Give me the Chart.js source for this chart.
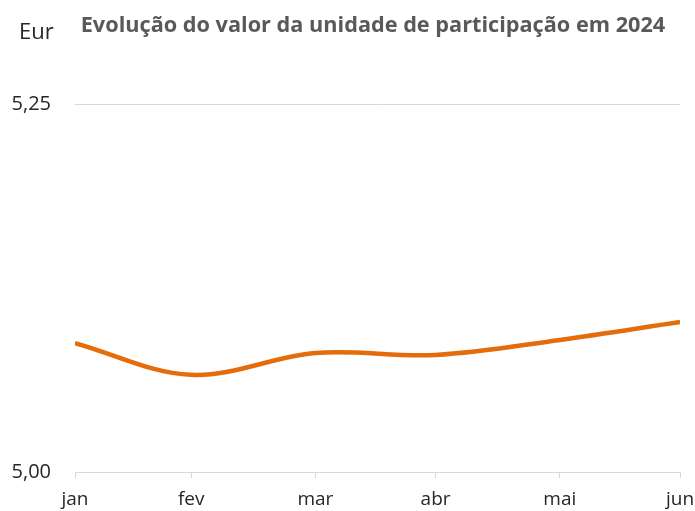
<!DOCTYPE html>
<html>
<head>
<meta charset="utf-8">
<script src="https://cdn.jsdelivr.net/npm/chart.js@4"></script>
<style>
  html, body { margin:0; padding:0; background:#fff; }
  #wrap { width:695px; height:511px; position:relative; }
</style>
</head>
<body>
<div id="wrap"><canvas id="upChart"></canvas></div>
<script>
// month labels, data at month end (day of year 2024), unit value in Eur
const months = ['jan','fev','mar','abr','mai','jun'];
const dayOfYear = [31, 60, 91, 121, 152, 182];
const unitValue = [5.0876, 5.0660, 5.0808, 5.0795, 5.0897, 5.1019];
const yTicks = [5.00, 5.25];

const headerText = {
  id:'headerText',
  afterDraw(chart){
    const ctx = chart.ctx;
    ctx.save();
    ctx.textBaseline = 'middle';
    ctx.fillStyle = '#262626';
    ctx.font = '22px "Open Sans"';
    ctx.textAlign = 'left';
    ctx.fillText('Eur', 19, 33);
    ctx.fillStyle = '#595959';
    ctx.font = 'bold 21.7px "Open Sans"';
    ctx.textAlign = 'center';
    ctx.fillText('Evolução do valor da unidade de participação em 2024', 373, 26);
    ctx.restore();
  }
};

new Chart(document.getElementById('upChart'), {
  type:'line',
  data:{
    datasets:[{
      data: dayOfYear.map((d,i)=>({x:d, y:unitValue[i]})),
      borderColor:'#E46C0A',
      borderWidth:4.5,
      pointRadius:0,
      tension:0.35,
      fill:false
    }]
  },
  options:{
    responsive:true,
    maintainAspectRatio:false,
    animation:false,
    layout:{padding:{left:8, right:15, top:104, bottom:0}},
    plugins:{legend:{display:false}, tooltip:{enabled:false}},
    scales:{
      x:{
        type:'linear',
        min:dayOfYear[0], max:dayOfYear[dayOfYear.length-1],
        afterBuildTicks(scale){ scale.ticks = dayOfYear.map(v=>({value:v})); },
        afterFit(scale){ scale.height = 39; scale.paddingRight = 0; scale.paddingLeft = 0; },
        ticks:{
          autoSkip:false, maxRotation:0, padding:10, color:'#262626',
          font:{family:'"Open Sans"', size:19},
          callback:(v)=> months[dayOfYear.indexOf(v)]
        },
        grid:{drawOnChartArea:false, drawTicks:true, tickLength:6, color:'#d9d9d9'},
        border:{display:true, color:'#d9d9d9'}
      },
      y:{
        min:yTicks[0], max:yTicks[1],
        afterBuildTicks(scale){ scale.ticks = yTicks.map(v=>({value:v})); },
        afterFit(scale){ scale.width = 67; },
        ticks:{
          padding:24, color:'#262626',
          font:{family:'"Open Sans"', size:20},
          callback:(v)=> v.toFixed(2).replace('.', ',')
        },
        grid:{color:'#d9d9d9', drawTicks:false},
        border:{display:false}
      }
    }
  },
  plugins:[headerText]
});
</script>
</body>
</html>
